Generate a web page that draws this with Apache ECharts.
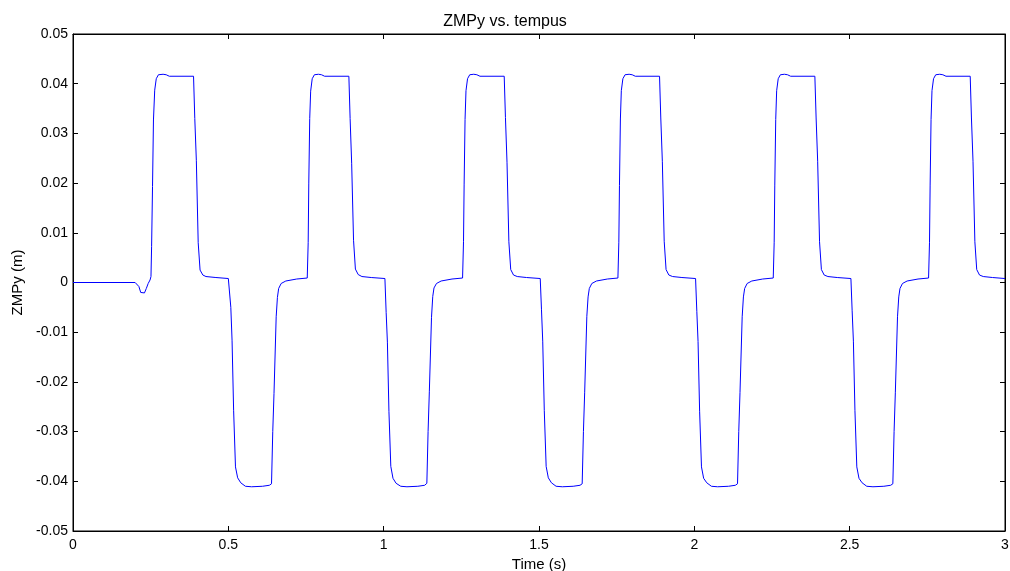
<!DOCTYPE html>
<html>
<head>
<meta charset="utf-8">
<script src="https://cdn.jsdelivr.net/npm/echarts@6/dist/echarts.min.js"></script>
<style>html,body{margin:0;padding:0;background:#fff}#c{width:1010px;height:571px}</style>
</head>
<body>
<div id="c"></div>
<script>
var chartTitle = 'ZMPy vs. tempus';
var xTitle = 'Time (s)';
var yTitle = 'ZMPy (m)';
var xTicks = [0, 0.5, 1, 1.5, 2, 2.5, 3];
var xTickLabels = ['0', '0.5', '1', '1.5', '2', '2.5', '3'];
var yTicks = [-0.05, -0.04, -0.03, -0.02, -0.01, 0, 0.01, 0.02, 0.03, 0.04, 0.05];
var yTickLabels = ['-0.05', '-0.04', '-0.03', '-0.02', '-0.01', '0', '0.01', '0.02', '0.03', '0.04', '0.05'];

var zmpyPoints = [
  [0,0],[0.2,0],[0.205,-0.0001],[0.212,-0.0008],[0.218,-0.002],[0.224,-0.0023],[0.23,-0.0021],[0.236,-0.0012],[0.242,-0.0002],[0.248,0.0005],
  [0.251,0.0012],[0.253,0.0072],[0.256,0.0193],[0.259,0.0327],[0.263,0.0387],[0.268,0.041],[0.275,0.0418],[0.29,0.0419],[0.3,0.0418],[0.31,0.0415],[0.388,0.0415],
  [0.392,0.033],[0.397,0.0246],[0.403,0.008],[0.409,0.0025],[0.418,0.0015],[0.428,0.0012],[0.46,0.001],[0.5,0.0008],[0.505,0.0008],
  [0.508,-0.005],[0.512,-0.0116],[0.517,-0.0257],[0.523,-0.0371],[0.53,-0.0393],[0.54,-0.0403],[0.555,-0.041],[0.575,-0.0411],[0.61,-0.041],[0.632,-0.0408],[0.639,-0.0405],
  [0.643,-0.03],[0.647,-0.0223],[0.654,-0.0069],[0.658,-0.003],[0.662,-0.0012],[0.67,-0.0002],[0.685,0.0003],[0.72,0.0007],[0.754,0.0009],
  [0.757,0.008],[0.759,0.02],[0.762,0.033],[0.765,0.0385],[0.77,0.041],[0.777,0.0418],[0.79,0.0419],[0.8,0.0418],[0.81,0.0415],[0.888,0.0415],
  [0.892,0.033],[0.897,0.024],[0.903,0.0085],[0.909,0.0027],[0.918,0.0016],[0.93,0.0012],[0.96,0.001],[1.004,0.0008],
  [1.008,-0.006],[1.012,-0.012],[1.017,-0.026],[1.023,-0.037],[1.03,-0.0394],[1.04,-0.0404],[1.055,-0.041],[1.075,-0.0411],[1.11,-0.041],[1.132,-0.0408],[1.139,-0.0404],
  [1.143,-0.03],[1.147,-0.022],[1.154,-0.007],[1.158,-0.0028],[1.162,-0.0011],[1.17,-0.0002],[1.185,0.0003],[1.22,0.0007],[1.254,0.0009],
  [1.257,0.0082],[1.259,0.0198],[1.262,0.0328],[1.265,0.0386],[1.27,0.041],[1.277,0.0418],[1.29,0.0419],[1.3,0.0418],[1.31,0.0415],[1.388,0.0415],
  [1.392,0.0332],[1.397,0.0242],[1.403,0.0082],[1.409,0.0026],[1.418,0.0015],[1.43,0.0012],[1.46,0.001],[1.504,0.0008],
  [1.508,-0.0055],[1.512,-0.0118],[1.517,-0.0258],[1.523,-0.037],[1.53,-0.0393],[1.54,-0.0403],[1.555,-0.041],[1.575,-0.0411],[1.61,-0.041],[1.632,-0.0408],[1.639,-0.0405],
  [1.643,-0.03],[1.647,-0.0222],[1.654,-0.0068],[1.658,-0.0029],[1.662,-0.0012],[1.67,-0.0002],[1.685,0.0003],[1.72,0.0007],[1.754,0.0009],
  [1.757,0.0081],[1.759,0.0195],[1.762,0.0329],[1.765,0.0386],[1.77,0.041],[1.777,0.0418],[1.79,0.0419],[1.8,0.0418],[1.81,0.0415],[1.888,0.0415],
  [1.892,0.0331],[1.897,0.0244],[1.903,0.0083],[1.909,0.0026],[1.918,0.0015],[1.93,0.0012],[1.96,0.001],[2.004,0.0008],
  [2.008,-0.0058],[2.012,-0.0119],[2.017,-0.0259],[2.023,-0.0371],[2.03,-0.0394],[2.04,-0.0403],[2.055,-0.041],[2.075,-0.0411],[2.11,-0.041],[2.132,-0.0408],[2.139,-0.0405],
  [2.143,-0.03],[2.147,-0.0221],[2.154,-0.0069],[2.158,-0.0029],[2.162,-0.0012],[2.17,-0.0002],[2.185,0.0003],[2.22,0.0007],[2.254,0.0009],
  [2.257,0.0081],[2.259,0.0196],[2.262,0.0328],[2.265,0.0386],[2.27,0.041],[2.277,0.0418],[2.29,0.0419],[2.3,0.0418],[2.31,0.0415],[2.388,0.0415],
  [2.392,0.0331],[2.397,0.0244],[2.403,0.0082],[2.409,0.0026],[2.418,0.0015],[2.43,0.0012],[2.46,0.001],[2.504,0.0008],
  [2.508,-0.0057],[2.512,-0.0118],[2.517,-0.0258],[2.523,-0.0371],[2.53,-0.0394],[2.54,-0.0403],[2.555,-0.041],[2.575,-0.0411],[2.61,-0.041],[2.632,-0.0408],[2.639,-0.0405],
  [2.643,-0.03],[2.647,-0.0222],[2.654,-0.0069],[2.658,-0.0029],[2.662,-0.0012],[2.67,-0.0002],[2.685,0.0003],[2.72,0.0007],[2.754,0.0009],
  [2.757,0.0081],[2.759,0.0196],[2.762,0.0328],[2.765,0.0386],[2.77,0.041],[2.777,0.0418],[2.79,0.0419],[2.8,0.0418],[2.81,0.0415],[2.888,0.0415],
  [2.892,0.0331],[2.897,0.0244],[2.903,0.0082],[2.909,0.0026],[2.918,0.0015],[2.93,0.0012],[2.96,0.001],[3.0,0.0008]
];

var font = 'Liberation Sans, Arial, sans-serif';
var chart = echarts.init(document.getElementById('c'), null, {renderer: 'canvas'});

function fmtX(v) {
  for (var i = 0; i < xTicks.length; i++) if (Math.abs(xTicks[i] - v) < 1e-9) return xTickLabels[i];
  return '';
}
function fmtY(v) {
  for (var i = 0; i < yTicks.length; i++) if (Math.abs(yTicks[i] - v) < 1e-9) return yTickLabels[i];
  return '';
}

var tickCommon = {show: true, inside: true, length: 5, lineStyle: {color: '#000', width: 1}};

chart.setOption({
  animation: false,
  backgroundColor: '#fff',
  title: {
    text: chartTitle, left: 'center', top: 9,
    textStyle: {fontFamily: font, fontSize: 16, fontWeight: 'normal', color: '#000'}
  },
  grid: {left: 73, right: 5, top: 34, bottom: 40, containLabel: false, outerBoundsMode: 'none',
         show: true, borderColor: '#000', borderWidth: 1, backgroundColor: 'transparent'},
  xAxis: [{
    type: 'value', min: 0, max: 3, interval: 0.5,
    name: xTitle, nameLocation: 'middle', nameGap: 25,
    nameTextStyle: {fontFamily: font, fontSize: 15, color: '#000'},
    axisLine: {show: true, onZero: false, lineStyle: {color: '#000', width: 1}},
    axisTick: tickCommon,
    axisLabel: {formatter: fmtX, fontFamily: font, fontSize: 14, color: '#000', margin: 7},
    splitLine: {show: false}
  }, {
    type: 'value', min: 0, max: 3, interval: 0.5, position: 'top',
    axisLine: {show: true, onZero: false, lineStyle: {color: '#000', width: 1}},
    axisTick: tickCommon, axisLabel: {show: false}, splitLine: {show: false}
  }],
  yAxis: [{
    type: 'value', min: -0.05, max: 0.05, interval: 0.01,
    name: yTitle, nameLocation: 'middle', nameGap: 48, nameRotate: 90,
    nameTextStyle: {fontFamily: font, fontSize: 15, color: '#000'},
    axisLine: {show: true, onZero: false, lineStyle: {color: '#000', width: 1}},
    axisTick: tickCommon,
    axisLabel: {formatter: fmtY, fontFamily: font, fontSize: 14, color: '#000', margin: 5},
    splitLine: {show: false}
  }, {
    type: 'value', min: -0.05, max: 0.05, interval: 0.01, position: 'right',
    axisLine: {show: true, onZero: false, lineStyle: {color: '#000', width: 1}},
    axisTick: tickCommon, axisLabel: {show: false}, splitLine: {show: false}
  }],
  series: [{
    type: 'line', data: zmpyPoints, xAxisIndex: 0, yAxisIndex: 0,
    showSymbol: false, smooth: false,
    lineStyle: {color: '#0000ff', width: 1},
    itemStyle: {color: '#0000ff'}
  }]
});
</script>
</body>
</html>
